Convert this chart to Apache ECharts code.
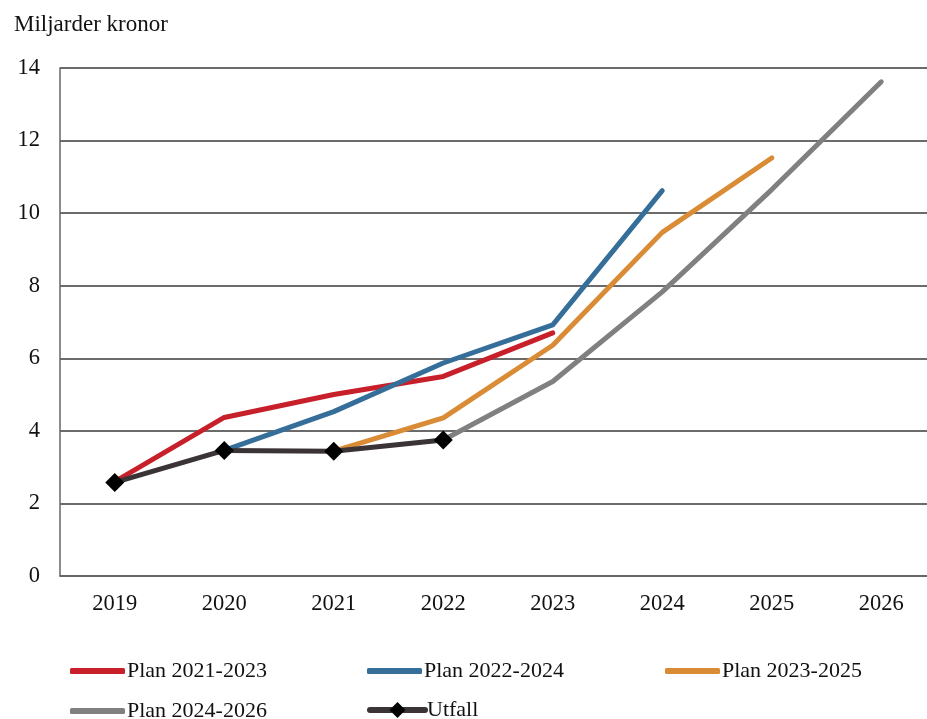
<!DOCTYPE html>
<html>
<head>
<meta charset="utf-8">
<script src="https://cdn.jsdelivr.net/npm/echarts@6/dist/echarts.min.js"></script>
<style>
html,body{margin:0;padding:0;background:#fff;}
#chart{width:927px;height:719px;}
</style>
</head>
<body>
<div id="chart"></div>
<script>
var years = ['2019','2020','2021','2022','2023','2024','2025','2026'];
var yTicks = [0, 2, 4, 6, 8, 10, 12, 14];
var plan2123 = [2.6, 4.37, 5.0, 5.5, 6.7, null, null, null];
var plan2224 = [null, 3.46, 4.53, 5.87, 6.92, 10.62, null, null];
var plan2325 = [null, null, 3.44, 4.36, 6.36, 9.47, 11.52, null];
var plan2426 = [null, null, null, 3.75, 5.36, 7.83, 10.65, 13.62];
var utfall = [2.58, 3.46, 3.44, 3.75, null, null, null, null];
var names = ['Plan 2021-2023', 'Plan 2022-2024', 'Plan 2023-2025', 'Plan 2024-2026', 'Utfall'];
var yTitle = 'Miljarder kronor';

var FONT = '"Liberation Serif", "DejaVu Serif", serif';
var colors = ['#c8202a', '#356f99', '#d98b35', '#808080', '#3a3436'];
var seriesData = [plan2123, plan2224, plan2325, plan2426, utfall];

var chart = echarts.init(document.getElementById('chart'), null, {renderer: 'canvas'});

var series = names.map(function (n, i) {
  var isU = (n === 'Utfall');
  return {
    name: n,
    type: 'line',
    data: seriesData[i],
    connectNulls: false,
    symbol: isU ? 'diamond' : 'none',
    symbolSize: isU ? 19 : 0,
    showSymbol: isU,
    z: isU ? 10 : 2 + i,
    lineStyle: {color: colors[i], width: 5, cap: 'round', join: 'round'},
    itemStyle: {color: isU ? '#000' : colors[i]},
    emphasis: {disabled: true},
    animation: false
  };
});

var legendPos = [
  {left: 70, top: 660},
  {left: 367, top: 660},
  {left: 665, top: 660},
  {left: 70, top: 700},
  {left: 367, top: 699}
];
var legends = names.map(function (n, i) {
  var isU = (n === 'Utfall');
  var l = {
    data: [n],
    left: legendPos[i].left,
    top: legendPos[i].top,
    itemWidth: 55,
    itemHeight: isU ? 20 : 6,
    itemGap: 0,
    padding: 0,
    selectedMode: false,
    lineStyle: {width: 6, cap: 'round'},
    textStyle: {fontFamily: FONT, fontSize: 22, color: '#111', padding: [0, 0, 0, -3]}
  };
  if (!isU) {
    l.icon = 'roundRect';
    l.itemStyle = {color: colors[i]};
  }
  return l;
});

chart.setOption({
  backgroundColor: '#fff',
  animation: false,
  title: {
    text: yTitle, left: 9, top: 8,
    textStyle: {fontFamily: FONT, fontSize: 23, fontWeight: 'normal', color: '#111'}
  },
  legend: legends,
  grid: {left: 60, width: 876, top: 68, height: 508, containLabel: false, outerBoundsMode: 'none'},
  xAxis: {
    type: 'category',
    data: years,
    boundaryGap: true,
    axisLine: {show: true, lineStyle: {color: '#666', width: 1.5}},
    axisTick: {show: false},
    axisLabel: {fontFamily: FONT, fontSize: 22.5, color: '#111', margin: 17}
  },
  yAxis: {
    type: 'value',
    min: yTicks[0], max: yTicks[yTicks.length - 1], interval: 2,
    axisLine: {show: true, lineStyle: {color: '#666', width: 1.5}},
    axisTick: {show: false},
    splitLine: {show: true, lineStyle: {color: '#3a3a3a', width: 1.5}},
    axisLabel: {fontFamily: FONT, fontSize: 22.5, color: '#111', margin: 20}
  },
  series: series
});
</script>
</body>
</html>
